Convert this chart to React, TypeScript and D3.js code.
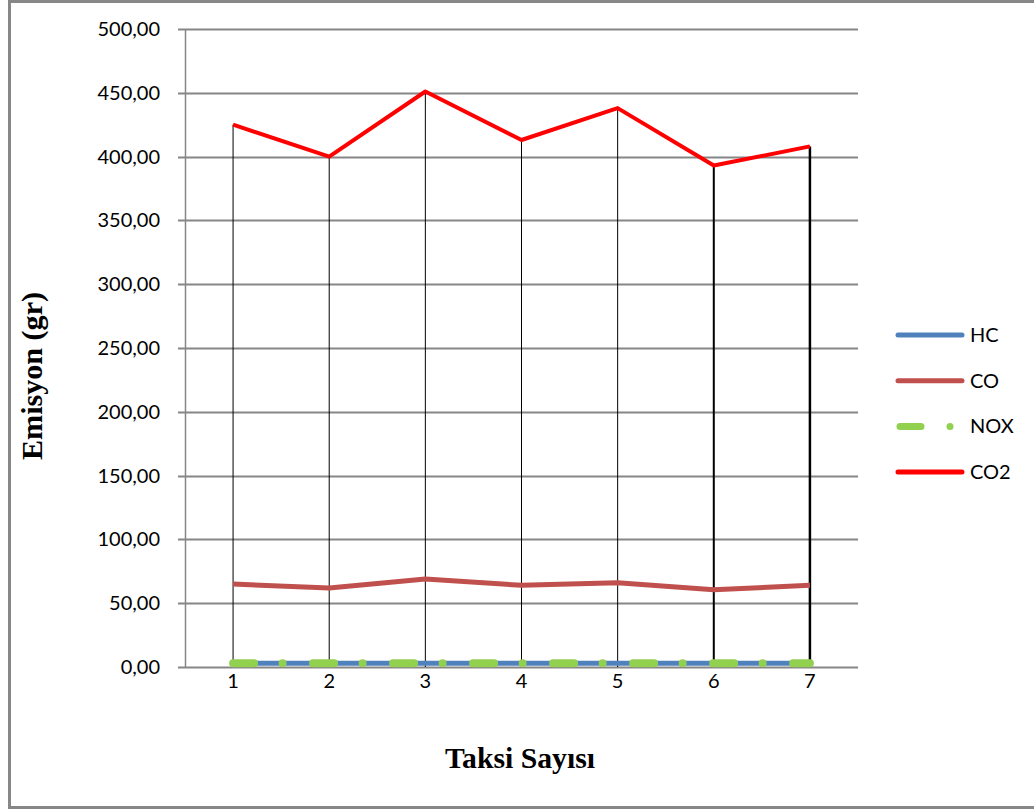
import React from "react";
import * as d3 from "d3";

// Emission per taxi count
const categories = ["1", "2", "3", "4", "5", "6", "7"];
const hcValues = [3, 3, 3, 3, 3, 3, 3];
const coValues = [65, 62, 69, 64, 66, 60.5, 64];
const noxValues = [3, 3, 3, 3, 3, 3, 3];
const co2Values = [425, 400, 451, 413, 438, 393, 408];
const yTicks = [0, 50, 100, 150, 200, 250, 300, 350, 400, 450, 500];
const seriesNames = ["HC", "CO", "NOX", "CO2"];

const W = 1034;
const H = 809;
const plot = { left: 185, right: 858, top: 29, bottom: 667 };

const colors: Record<string, string> = {
  HC: "#4F81BD",
  CO: "#C0504D",
  NOX: "#92D050",
  CO2: "#FF0000",
};

const fmt = (v: number) => v.toFixed(2).replace(".", ",");

export default function App() {
  const x = d3
    .scalePoint<string>()
    .domain(categories)
    .range([plot.left, plot.right])
    .padding(0.5);
  const y = d3.scaleLinear().domain([0, 500]).range([plot.bottom, plot.top]);

  const line = d3
    .line<number>()
    .x((_, i) => x(categories[i]) as number)
    .y((d) => y(d));

  const noxDash = "21 28.5 0.01 30.5";
  const dropWidths = [1, 1, 1, 1, 1, 2, 2.5];

  return (
    <svg
      width={W}
      height={H}
      style={{ position: "absolute", left: 0, top: 0, background: "#fff" }}
      fontFamily="Lato, 'Open Sans', sans-serif"
    >
      {/* chart frame */}
      <rect x={9.5} y={1.5} width={W + 10} height={H - 3} fill="#fff" stroke="#878787" strokeWidth={3} />

      {/* gridlines and y ticks */}
      {yTicks.map((t) => (
        <g key={t}>
          <line
            x1={plot.left - 7}
            x2={plot.right}
            y1={Math.round(y(t)) + 0.5}
            y2={Math.round(y(t)) + 0.5}
            stroke="#868686"
            strokeWidth={2}
          />
          <text x={160} y={y(t)} dy="0.35em" textAnchor="end" fontSize={20} fill="#000">
            {fmt(t)}
          </text>
        </g>
      ))}
      <line x1={plot.left + 0.5} x2={plot.left + 0.5} y1={plot.top} y2={plot.bottom} stroke="#868686" strokeWidth={1.5} />

      {/* x labels */}
      {categories.map((c) => (
        <text key={c} x={x(c)} y={681} dy="0.35em" textAnchor="middle" fontSize={20} fill="#000">
          {c}
        </text>
      ))}

      {/* drop lines from the highest value to the axis */}
      {categories.map((c, i) => (
        <line
          key={c}
          x1={x(c)}
          x2={x(c)}
          y1={y(co2Values[i])}
          y2={plot.bottom}
          stroke="#000"
          strokeWidth={dropWidths[i]}
        />
      ))}

      {/* series */}
      <path d={line(hcValues) || ""} fill="none" stroke={colors.HC} strokeWidth={5} />
      <path
        d={line(noxValues) || ""}
        fill="none"
        stroke={colors.NOX}
        strokeWidth={8}
        strokeLinecap="round"
        strokeDasharray={noxDash}
      />
      <path d={line(coValues) || ""} fill="none" stroke={colors.CO} strokeWidth={5} strokeLinejoin="round" />
      <path d={line(co2Values) || ""} fill="none" stroke={colors.CO2} strokeWidth={4} strokeLinejoin="round" />

      {/* legend */}
      {seriesNames.map((s, i) => {
        const ly = 335 + i * 45.7;
        return (
          <g key={s}>
            {s === "NOX" ? (
              <>
                <line x1={900} x2={921} y1={ly} y2={ly} stroke={colors.NOX} strokeWidth={7} strokeLinecap="round" />
                <circle cx={950} cy={ly} r={3.5} fill={colors.NOX} />
              </>
            ) : (
              <line x1={898} x2={962} y1={ly} y2={ly} stroke={colors[s]} strokeWidth={5} strokeLinecap="round" />
            )}
            <text x={970} y={ly} dy="0.35em" fontSize={20} fill="#000">
              {s}
            </text>
          </g>
        );
      })}

      {/* axis titles */}
      <text
        transform="translate(42,376) rotate(-90)"
        textAnchor="middle"
        fontFamily="'Liberation Serif', 'DejaVu Serif', serif"
        fontWeight="bold"
        fontSize={29}
        textLength={168}
        lengthAdjust="spacingAndGlyphs"
        fill="#000"
      >
        Emisyon (gr)
      </text>
      <text
        x={520}
        y={768}
        textAnchor="middle"
        fontFamily="'Liberation Serif', 'DejaVu Serif', serif"
        fontWeight="bold"
        fontSize={29}
        textLength={150}
        lengthAdjust="spacingAndGlyphs"
        fill="#000"
      >
        Taksi Sayısı
      </text>
    </svg>
  );
}
